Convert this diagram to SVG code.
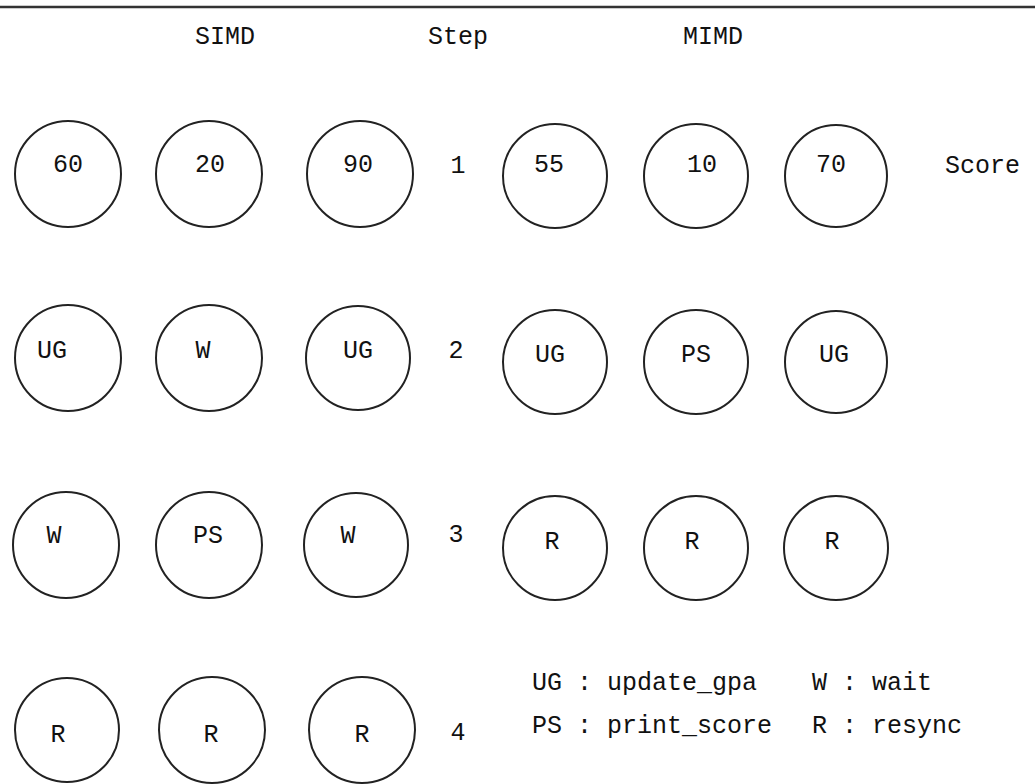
<svg xmlns="http://www.w3.org/2000/svg" width="1035" height="784" viewBox="0 0 1035 784">
<style>
  .n { fill: none; stroke: #222; stroke-width: 2; }
  .t { font-family: "Liberation Mono", "DejaVu Sans Mono", monospace; font-size: 25px; fill: #111; }
  .c { text-anchor: middle; }
</style>
<rect width="1035" height="784" fill="#fff"/>
<line x1="0" y1="7" x2="1035" y2="7" stroke="#333" stroke-width="2.5"/>
<g id="headers">
  <text class="t c" x="225" y="44">SIMD</text>
  <text class="t c" x="458" y="44">Step</text>
  <text class="t c" x="713" y="44">MIMD</text>
</g>
<g id="row1">
  <g id="s1a"><circle class="n" cx="68" cy="174" r="53"/><text class="t c" x="68" y="172">60</text></g>
  <g id="s1b"><circle class="n" cx="209" cy="174" r="53"/><text class="t c" x="210" y="172">20</text></g>
  <g id="s1c"><circle class="n" cx="360" cy="174" r="53"/><text class="t c" x="358" y="172">90</text></g>
  <text class="t c" x="458" y="173">1</text>
  <g id="m1a"><circle class="n" cx="555" cy="176" r="52"/><text class="t c" x="549" y="172">55</text></g>
  <g id="m1b"><circle class="n" cx="696" cy="176" r="52"/><text class="t c" x="702" y="172">10</text></g>
  <g id="m1c"><circle class="n" cx="836" cy="176" r="51"/><text class="t c" x="831" y="172">70</text></g>
  <text class="t" x="945" y="173">Score</text>
</g>
<g id="row2">
  <g id="s2a"><circle class="n" cx="68" cy="358" r="53"/><text class="t c" x="52" y="358">UG</text></g>
  <g id="s2b"><circle class="n" cx="209" cy="358" r="53"/><text class="t c" x="203" y="358">W</text></g>
  <g id="s2c"><circle class="n" cx="358" cy="358" r="52"/><text class="t c" x="358" y="358">UG</text></g>
  <text class="t c" x="456" y="358">2</text>
  <g id="m2a"><circle class="n" cx="555" cy="362" r="52"/><text class="t c" x="550" y="362">UG</text></g>
  <g id="m2b"><circle class="n" cx="696" cy="362" r="52"/><text class="t c" x="696" y="362">PS</text></g>
  <g id="m2c"><circle class="n" cx="836" cy="362" r="51"/><text class="t c" x="834" y="362">UG</text></g>
</g>
<g id="row3">
  <g id="s3a"><circle class="n" cx="66" cy="545" r="53"/><text class="t c" x="54" y="543">W</text></g>
  <g id="s3b"><circle class="n" cx="209" cy="545" r="53"/><text class="t c" x="208" y="543">PS</text></g>
  <g id="s3c"><circle class="n" cx="356" cy="545" r="52"/><text class="t c" x="348" y="543">W</text></g>
  <text class="t c" x="456" y="542">3</text>
  <g id="m3a"><circle class="n" cx="555" cy="548" r="52"/><text class="t c" x="552" y="549">R</text></g>
  <g id="m3b"><circle class="n" cx="696" cy="548" r="52"/><text class="t c" x="692" y="549">R</text></g>
  <g id="m3c"><circle class="n" cx="836" cy="548" r="52"/><text class="t c" x="832" y="549">R</text></g>
</g>
<g id="row4">
  <g id="s4a"><circle class="n" cx="67" cy="730" r="52"/><text class="t c" x="58" y="742">R</text></g>
  <g id="s4b"><circle class="n" cx="212" cy="730" r="53"/><text class="t c" x="211" y="742">R</text></g>
  <g id="s4c"><circle class="n" cx="362" cy="730" r="53"/><text class="t c" x="362" y="742">R</text></g>
  <text class="t c" x="458" y="740">4</text>
</g>
<g id="legend" class="t">
  <text x="532" y="690">UG : update_gpa</text>
  <text x="812" y="690">W : wait</text>
  <text x="532" y="733">PS : print_score</text>
  <text x="812" y="733">R : resync</text>
</g>
</svg>
